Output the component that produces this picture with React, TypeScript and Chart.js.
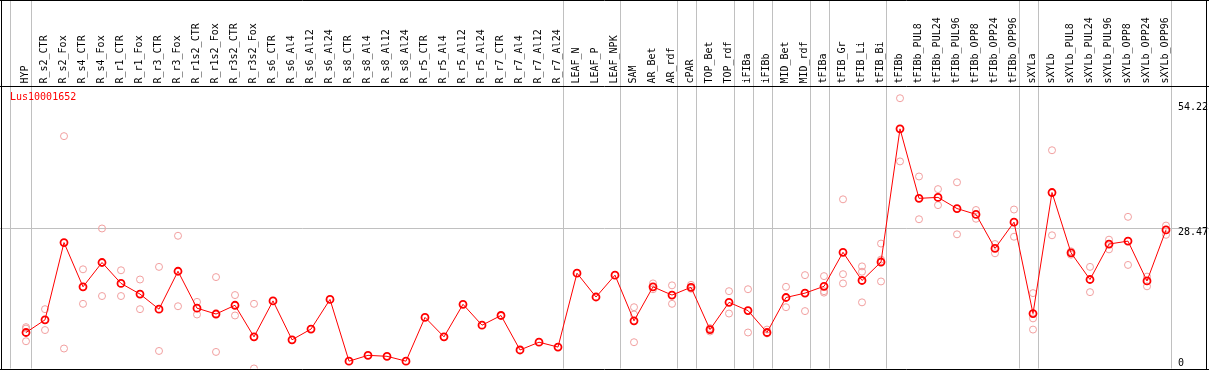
import React, { useEffect, useRef } from 'react';
import { Chart, registerables } from 'chart.js';

Chart.register(...registerables);

const chartTitle = 'Lus10001652';

const categories = [
  'HYP',
  'R_s2_CTR', 'R_s2_Fox', 'R_s4_CTR', 'R_s4_Fox', 'R_r1_CTR', 'R_r1_Fox', 'R_r3_CTR', 'R_r3_Fox',
  'R_r1s2_CTR', 'R_r1s2_Fox', 'R_r3s2_CTR', 'R_r3s2_Fox',
  'R_s6_CTR', 'R_s6_Al4', 'R_s6_Al12', 'R_s6_Al24',
  'R_s8_CTR', 'R_s8_Al4', 'R_s8_Al12', 'R_s8_Al24',
  'R_r5_CTR', 'R_r5_Al4', 'R_r5_Al12', 'R_r5_Al24',
  'R_r7_CTR', 'R_r7_Al4', 'R_r7_Al12', 'R_r7_Al24',
  'LEAF_N', 'LEAF_P', 'LEAF_NPK',
  'SAM', 'AR_Bet', 'AR_rdf', 'cPAR', 'TOP_Bet', 'TOP_rdf', 'iFIBa', 'iFIBb', 'MID_Bet', 'MID_rdf',
  'tFIBa', 'tFIB_Gr', 'tFIB_Li', 'tFIB_Bi',
  'tFIBb', 'tFIBb_PUL8', 'tFIBb_PUL24', 'tFIBb_PUL96', 'tFIBb_OPP8', 'tFIBb_OPP24', 'tFIBb_OPP96',
  'sXYLa', 'sXYLb', 'sXYLb_PUL8', 'sXYLb_PUL24', 'sXYLb_PUL96', 'sXYLb_OPP8', 'sXYLb_OPP24', 'sXYLb_OPP96',
];

const means = [
  6.9,
  9.5, 25.4, 16.3, 21.3, 17.0, 14.8, 11.7, 19.5,
  11.9, 10.7, 12.5, 6.0,
  13.4, 5.4, 7.6, 13.7,
  1.0, 2.2, 2.0, 1.0,
  10.0, 6.0, 12.7, 8.4,
  10.4, 3.3, 4.9, 3.9,
  19.1, 14.2, 18.7,
  9.3, 16.3, 14.6, 16.2, 7.5, 13.1, 11.4, 6.9, 14.1, 15.0,
  16.4, 23.4, 17.6, 21.4,
  48.8, 34.5, 34.7, 32.4, 31.2, 24.2, 29.6,
  10.8, 35.7, 23.3, 17.8, 25.1, 25.7, 17.5, 28.0,
];

const rep1 = [
  8.0,
  11.7, 47.3, 19.9, 28.3, 19.7, 17.8, 20.4, 26.8,
  13.2, 18.3, 14.6, 12.8,
  null, null, null, null,
  null, null, null, null,
  null, null, null, null,
  null, null, null, null,
  null, null, null,
  12.1, 17.0, 16.6, 16.7, 7.8, 15.4, 15.8, 7.5, 16.3, 18.7,
  18.5, 34.3, 20.5, 25.2,
  55.1, 39.0, 36.4, 37.8, 32.1, 25.1, 32.2,
  15.0, 44.4, 23.6, 20.4, 26.0, 30.7, 18.4, 28.9,
];

const rep2 = [
  5.1,
  7.4, 3.6, 12.8, 14.4, 14.4, 11.7, 3.1, 12.3,
  10.6, 2.9, 10.4, -0.5,
  null, null, null, null,
  null, null, null, null,
  null, null, null, null,
  null, null, null, null,
  null, null, null,
  4.9, 15.8, 12.8, 15.9, 7.1, 10.8, 6.9, 6.7, 12.1, 11.3,
  15.1, 17.0, 13.1, 17.4,
  42.1, 30.2, 33.1, 27.1, 30.3, 23.2, 26.6,
  7.5, 26.9, 22.9, 15.2, 24.0, 20.8, 16.4, 27.0,
];

const rep3 = [
  7.7,
  null, null, null, null, null, null, null, null,
  null, null, null, null,
  null, null, null, null,
  null, null, null, null,
  null, null, null, null,
  null, null, null, null,
  null, null, null,
  10.6, null, null, null, null, null, null, null, null, null,
  15.4, 18.9, 19.4, 21.9,
  null, null, null, null, null, null, null,
  9.8, null, null, null, null, null, null, null,
];

const yTicks = [0, 28.47, 54.22];
const yMin = -0.51;
const yMax = 57.72;
const gridValue = 28.47;
// index of the last category of each sample group
const groupEnds = [0, 28, 31, 34, 35, 37, 38, 39, 41, 42, 45, 52, 53, 60];

const FONT = '"DejaVu Sans Mono", monospace';

export default function App() {
  const ref = useRef<HTMLCanvasElement | null>(null);

  useEffect(() => {
    if (!ref.current) return;

    const decor = {
      id: 'decor',
      beforeDraw(chart: any) {
        const { ctx, width, height } = chart;
        const x = chart.scales.x;
        const y = chart.scales.y;
        ctx.save();
        ctx.fillStyle = '#ffffff';
        ctx.fillRect(0, 0, width, height);
        ctx.strokeStyle = '#c0c0c0';
        ctx.lineWidth = 1;
        const seps = [-0.84, ...groupEnds.map((i) => i + 0.24)];
        seps.forEach((v) => {
          const px = Math.round(x.getPixelForValue(v)) + 0.5;
          ctx.beginPath();
          ctx.moveTo(px, 0);
          ctx.lineTo(px, y.bottom);
          ctx.stroke();
        });
        const py = Math.round(y.getPixelForValue(gridValue)) + 0.5;
        ctx.beginPath();
        ctx.moveTo(0, py);
        ctx.lineTo(width, py);
        ctx.stroke();
        ctx.restore();
      },
      afterDraw(chart: any) {
        const { ctx, width } = chart;
        const y = chart.scales.y;
        const x = chart.scales.x;
        ctx.save();
        ctx.strokeStyle = '#000000';
        ctx.lineWidth = 1;
        ctx.beginPath();
        ctx.moveTo(0, 0.5);
        ctx.lineTo(width, 0.5);
        ctx.moveTo(0, Math.round(x.bottom) + 0.5);
        ctx.lineTo(width, Math.round(x.bottom) + 0.5);
        ctx.moveTo(0, Math.round(y.bottom) + 0.5);
        ctx.lineTo(width, Math.round(y.bottom) + 0.5);
        ctx.moveTo(1.5, 0);
        ctx.lineTo(1.5, Math.round(y.bottom) + 1);
        ctx.moveTo(width - 2.5, 0);
        ctx.lineTo(width - 2.5, Math.round(y.bottom) + 1);
        ctx.stroke();
        ctx.fillStyle = '#ff0000';
        ctx.font = '10px ' + FONT;
        ctx.textBaseline = 'top';
        ctx.textAlign = 'left';
        ctx.fillText(chartTitle, 10, 92);
        ctx.restore();
      },
    };

    const repStyle = {
      type: 'line' as const,
      showLine: false,
      pointRadius: 3.5,
      pointHoverRadius: 3.5,
      pointBorderWidth: 1,
      pointBorderColor: '#f2a0a0',
      pointBackgroundColor: 'rgba(0,0,0,0)',
      borderColor: '#f2a0a0',
      backgroundColor: 'rgba(0,0,0,0)',
    };

    const chart = new Chart(ref.current, {
      type: 'line',
      data: {
        labels: categories,
        datasets: [
          {
            label: chartTitle,
            data: means,
            borderColor: '#ff0000',
            borderWidth: 1,
            backgroundColor: 'rgba(0,0,0,0)',
            pointRadius: 3.5,
            pointHoverRadius: 3.5,
            pointBorderWidth: 1.8,
            pointBorderColor: '#ff0000',
            pointBackgroundColor: 'rgba(0,0,0,0)',
            tension: 0,
          },
          { ...repStyle, label: 'rep1', data: rep1 },
          { ...repStyle, label: 'rep2', data: rep2 },
          { ...repStyle, label: 'rep3', data: rep3 },
        ],
      },
      options: {
        animation: false,
        responsive: false,
        events: [],
        layout: { autoPadding: false, padding: { left: 16.5, right: 0, top: 0, bottom: 1.5 } },
        plugins: {
          legend: { display: false },
          title: { display: false },
          tooltip: { enabled: false },
        },
        scales: {
          x: {
            type: 'category',
            position: 'top',
            offset: true,
            grid: { display: false, drawTicks: false },
            border: { display: false },
            ticks: {
              autoSkip: false,
              minRotation: 90,
              maxRotation: 90,
              padding: 2,
              labelOffset: 11,
              color: '#000000',
              font: { family: FONT, size: 10 },
            },
            afterFit: (scale: any) => {
              scale.height = 85.5;
              scale.paddingLeft = 0;
              scale.paddingRight = 0;
            },
          },
          y: {
            type: 'linear',
            position: 'right',
            min: yMin,
            max: yMax,
            grid: { display: false, drawTicks: false },
            border: { display: false },
            afterBuildTicks: (scale: any) => {
              scale.ticks = yTicks.map((v) => ({ value: v }));
            },
            ticks: {
              autoSkip: false,
              align: 'start',
              padding: 2.5,
              color: '#000000',
              font: { family: FONT, size: 10, lineHeight: 1.6 },
              callback: (v: any) => (v === 0 ? ['0', ''] : String(v)),
            },
            afterFit: (scale: any) => {
              scale.width = 33.5;
              scale.paddingTop = 0;
              scale.paddingBottom = 0;
            },
          },
        },
      },
      plugins: [decor],
    });

    return () => chart.destroy();
  }, []);

  return (
    <div style={{ position: 'absolute', left: 0, top: 0, width: 1209, height: 370 }}>
      <canvas ref={ref} width={1209} height={370} style={{ display: 'block' }} />
    </div>
  );
}
